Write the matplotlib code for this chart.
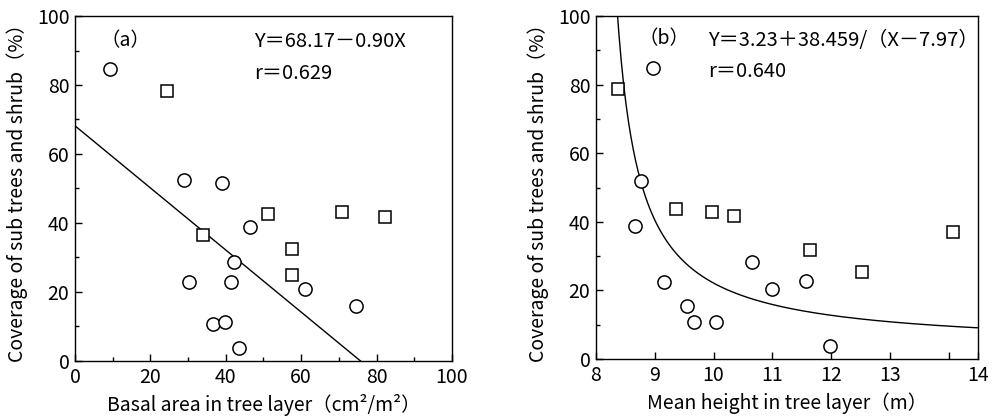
import matplotlib
matplotlib.use("Agg")
import matplotlib.pyplot as plt
import numpy as np
from matplotlib.ticker import MultipleLocator

plt.rcParams['font.family'] = ['Noto Sans CJK JP', 'DejaVu Sans']

# panel (a): basal area vs coverage
a_circ_x = [9.3, 29.0, 39.0, 46.5, 42.2, 30.3, 41.3, 60.9, 74.5, 36.7, 39.9, 43.4]
a_circ_y = [84.5, 52.4, 51.6, 38.8, 28.7, 22.9, 22.9, 20.9, 15.8, 10.8, 11.2, 3.9]
a_sq_x = [24.3, 34.0, 51.3, 57.6, 57.6, 70.7, 82.3]
a_sq_y = [78.2, 36.4, 42.7, 32.6, 24.8, 43.2, 41.7]

# panel (b): mean height vs coverage
b_circ_x = [8.97, 8.76, 8.67, 9.16, 10.66, 9.55, 9.66, 10.05, 10.99, 11.58, 11.98]
b_circ_y = [84.8, 51.9, 38.8, 22.6, 28.4, 15.5, 10.7, 10.7, 20.4, 22.8, 3.7]
b_sq_x = [8.38, 9.36, 9.98, 10.35, 11.64, 12.52, 14.07]
b_sq_y = [78.6, 43.7, 42.8, 41.7, 31.8, 25.3, 37.0]

# regression coefficients
a_int, a_slope = 68.17, -0.90
b_a, b_b, b_c = 3.23, 38.459, 7.97

b_ticks = [8, 9, 10, 11, 12, 13, 14, 14.5]
b_ticklabels = ['8', '9', '10', '11', '12', '13', '', '14']

fig = plt.figure(figsize=(9.92, 4.2), dpi=100)
ax1 = fig.add_axes([0.0756, 0.1405, 0.38, 0.8214])
ax2 = fig.add_axes([0.6008, 0.145, 0.385, 0.8167])

fs = 14
mk = dict(linestyle='none', markerfacecolor='white', markeredgecolor='black',
          markeredgewidth=1.1)

# (a)
xa = np.linspace(0, -a_int / a_slope, 100)
ax1.plot(xa, a_int + a_slope * xa, color='black', lw=1.0)
ax1.plot(a_circ_x, a_circ_y, marker='o', markersize=9.5, **mk)
ax1.plot(a_sq_x, a_sq_y, marker='s', markersize=8.5, **mk)
ax1.set_xlim(0, 100)
ax1.set_ylim(0, 100)
ax1.xaxis.set_major_locator(MultipleLocator(20))
ax1.xaxis.set_minor_locator(MultipleLocator(10))
ax1.yaxis.set_major_locator(MultipleLocator(20))
ax1.yaxis.set_minor_locator(MultipleLocator(10))
ax1.text(13.5, 93, '（a）', fontsize=fs, va='center', ha='center')
ax1.text(47.5, 92.5, 'Y＝68.17－0.90X', fontsize=fs + 0.5, va='center')
ax1.text(47.5, 83.3, 'r＝0.629', fontsize=fs + 0.5, va='center')
ax1.set_xlabel('Basal area in tree layer（cm²/m²）', fontsize=fs, labelpad=5)
ax1.set_ylabel('Coverage of sub trees and shrub（%）', fontsize=fs, labelpad=6)

# (b)
x0 = b_c + b_b / (100 - b_a)
xb = np.linspace(x0, 14.5, 300)
ax2.plot(xb, b_a + b_b / (xb - b_c), color='black', lw=1.0)
ax2.plot(b_circ_x, b_circ_y, marker='o', markersize=9.5, clip_on=False, **mk)
ax2.plot(b_sq_x, b_sq_y, marker='s', markersize=8.5, **mk)
ax2.set_xlim(8, 14.5)
ax2.set_ylim(0, 100)
ax2.set_xticks(b_ticks)
ax2.set_xticklabels(b_ticklabels)
ax2.yaxis.set_major_locator(MultipleLocator(20))
ax2.yaxis.set_minor_locator(MultipleLocator(10))
ax2.text(8.72, 93.4, '（b）', fontsize=fs, va='center')
ax2.text(9.9, 93.0, 'Y＝3.23＋38.459/（X－7.97）', fontsize=fs + 0.5, va='center')
ax2.text(9.9, 83.7, 'r＝0.640', fontsize=fs + 0.5, va='center')
ax2.set_xlabel('Mean height in tree layer（m）', fontsize=fs, labelpad=5)
ax2.set_ylabel('Coverage of sub trees and shrub（%）', fontsize=fs, labelpad=6)

for ax in (ax1, ax2):
    ax.tick_params(direction='in', which='major', length=5, width=1,
                   labelsize=fs, pad=4)
    ax.tick_params(direction='in', which='minor', length=3, width=1)
    for s in ax.spines.values():
        s.set_linewidth(1.0)

fig.savefig('out.png', dpi=100)
